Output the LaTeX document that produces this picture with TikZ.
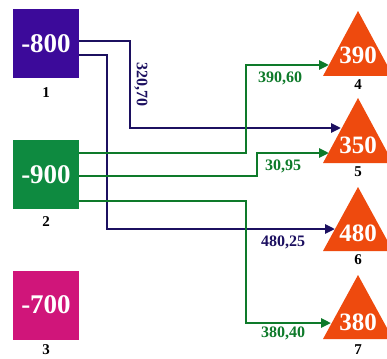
\documentclass[tikz,border=0pt]{standalone}
\usepackage{fontspec}
\setmainfont{Liberation Serif}
\usetikzlibrary{arrows.meta}
\definecolor{cbox1}{HTML}{3C0A9A}
\definecolor{cbox2}{HTML}{0E8A40}
\definecolor{cbox3}{HTML}{D0157A}
\definecolor{ctri}{HTML}{EE4A0E}
\definecolor{cblue}{HTML}{1C1060}
\definecolor{cgreen}{HTML}{0E7A2A}
\tikzset{
  srcbox/.style={minimum width=66pt, minimum height=69pt, inner sep=0pt, text=white, font=\fontsize{27}{27}\selectfont\bfseries},
  trinum/.style={text=white, inner sep=0pt, font=\fontsize{25}{25}\selectfont\bfseries},
  idlabel/.style={inner sep=0pt, font=\fontsize{15}{15}\selectfont\bfseries},
  edgelabel/.style={inner sep=0pt, font=\fontsize{16}{16}\selectfont\bfseries},
  conn/.style={line width=2.5pt, -{Triangle[length=10pt,width=9pt]}},
  blueline/.style={conn, draw=cblue},
  greenline/.style={conn, draw=cgreen},
  tri/.style={fill=ctri}
}
\begin{document}
\begin{tikzpicture}[x=1pt,y=-1pt]
\clip (0,0) rectangle (387,358);
\fill[white] (0,0) rectangle (387,358);
% source boxes
\node[srcbox, fill=cbox1] (b1) at (46,44) {-800};
\node[srcbox, fill=cbox2] (b2) at (46,174.5) {-900};
\node[srcbox, fill=cbox3] (b3) at (46,305) {-700};
\node[idlabel] (l1) at (46,93) {1};
\node[idlabel] (l2) at (46,222) {2};
\node[idlabel] (l3) at (46,350) {3};
% triangles
\fill[tri] (358,11) -- (393,76) -- (323,76) -- cycle;
\fill[tri] (358,98) -- (393,163) -- (323,163) -- cycle;
\fill[tri] (358,187) -- (393,251) -- (323,251) -- cycle;
\fill[tri] (358,275) -- (393,339) -- (323,339) -- cycle;
\node[trinum] (t4) at (358,55) {390};
\node[trinum] (t5) at (358,145) {350};
\node[trinum] (t6) at (358,233) {480};
\node[trinum] (t7) at (358,322) {380};
\node[idlabel] (l4) at (358,85) {4};
\node[idlabel] (l5) at (358,172) {5};
\node[idlabel] (l6) at (358,260) {6};
\node[idlabel] (l7) at (358,350) {7};
% arrow targets
\coordinate (a4) at (329,65);
\coordinate (a5b) at (341,128);
\coordinate (a5g) at (329,153);
\coordinate (a6) at (335,229);
\coordinate (a7) at (331,323);
% connectors
\draw[blueline] ([yshift=3pt]b1.east) -- ++(51,0) |- (a5b);
\draw[blueline] ([yshift=-11pt]b1.east) -- ++(28,0) |- (a6);
\draw[greenline] ([yshift=21.5pt]b2.east) -- ++(167,0) |- (a4);
\draw[greenline] ([yshift=-1.5pt]b2.east) -- ++(178,0) |- (a5g);
\draw[greenline] ([yshift=-26.5pt]b2.east) -- ++(167,0) |- (a7);
% edge labels
\node[edgelabel, text=cblue, rotate=-90] (e1) at (141,85) {320,70};
\node[edgelabel, text=cgreen] (e2) at (280,78) {390,60};
\node[edgelabel, text=cgreen] (e3) at (283,166) {30,95};
\node[edgelabel, text=cblue] (e4) at (283,242) {480,25};
\node[edgelabel, text=cgreen] (e5) at (283,333) {380,40};
\end{tikzpicture}
\end{document}
